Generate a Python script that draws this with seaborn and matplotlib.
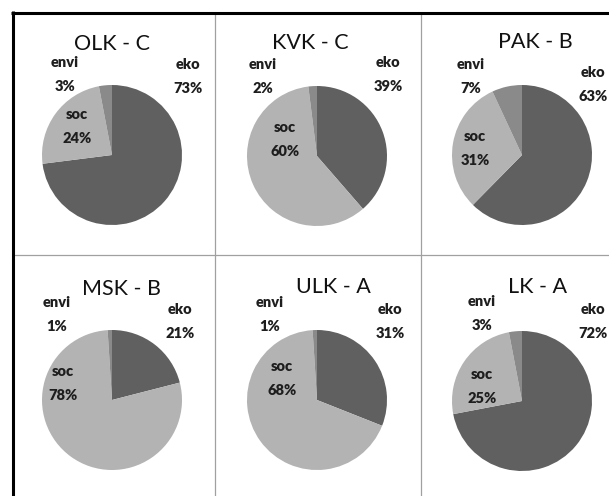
import matplotlib
matplotlib.use("Agg")
import matplotlib.pyplot as plt
import seaborn as sns

# ---- data ----
regions = ["OLK - C", "KVK - C", "PAK - B", "MSK - B", "ULK - A", "LK - A"]
categories = ["eko", "soc", "envi"]
eko = [73, 39, 63, 21, 31, 72]
soc = [24, 60, 31, 78, 68, 25]
envi = [3, 2, 7, 1, 1, 3]

# ---- style ----
sns.set_theme(style="white")
plt.rcParams['font.family'] = ['Lato', 'DejaVu Sans']
colors = ["#606060", "#b3b3b3", "#8a8a8a"]
W, H = 609, 496

# ---- layout (pixel positions) ----
centers = [(112, 155), (317, 156), (522, 155), (112, 400), (317, 400), (522, 401)]
radius = 70
title_pos = [(112, 50), (310, 49), (535, 48), (122, 295), (333, 293), (538, 293)]
label_pos = {
    "eko":  [(188, 69), (388, 67), (593, 77), (180, 314), (390, 314), (593, 314)],
    "soc":  [(77, 119), (285, 132), (475, 141), (63, 376), (282, 371), (482, 379)],
    "envi": [(65, 67), (263, 69), (471, 69), (57, 307), (270, 307), (482, 306)],
}
pct_gap = 24

fig = plt.figure(figsize=(W / 100, H / 100), dpi=100)
fig.patch.set_facecolor("white")
ax = fig.add_axes([0, 0, 1, 1])

series = {"eko": eko, "soc": soc, "envi": envi}
for i, reg in enumerate(regions):
    vals = [series[c][i] for c in categories]
    ax.pie(vals, colors=colors, center=centers[i], radius=radius,
           startangle=-90, counterclock=True,
           wedgeprops=dict(linewidth=0), frame=True)
    ax.text(title_pos[i][0], title_pos[i][1], reg, ha="center", va="baseline",
            fontsize=15.5, color="#111111")
    for c in categories:
        x, y = label_pos[c][i]
        ax.text(x, y, c, ha="center", va="baseline", fontsize=10.5,
                fontweight="heavy", color="#1e1e1e")
        ax.text(x, y + pct_gap, f"{series[c][i]}%", ha="center", va="baseline",
                fontsize=10.5, fontweight="heavy", color="#1e1e1e")

# grid lines and border
for gx in (215, 421):
    ax.plot([gx, gx], [13, H], color="#a0a0a0", lw=0.9)
ax.plot([13, W], [255, 255], color="#a0a0a0", lw=0.9)
ax.plot([12.5, 12.5], [11, H], color="black", lw=2.2, solid_capstyle="butt")
ax.plot([11, W], [12.5, 12.5], color="black", lw=2.2, solid_capstyle="butt")

ax.set_xlim(0, W)
ax.set_ylim(H, 0)
ax.set_aspect("equal")
ax.axis("off")

fig.savefig("out.png", dpi=100, facecolor="white")
